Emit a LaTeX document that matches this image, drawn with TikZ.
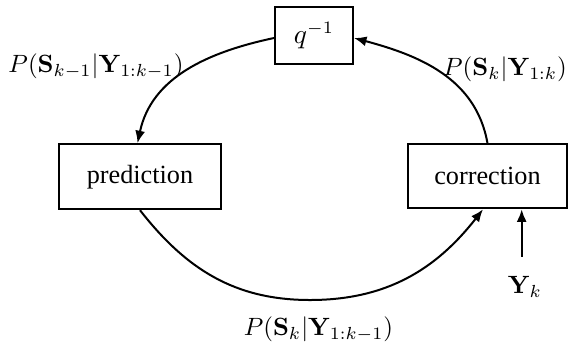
\documentclass[tikz,border=0pt]{standalone}
\usepackage[no-math]{fontspec}
\setmainfont{Liberation Serif}
\usepackage{amsmath}
\usetikzlibrary{arrows.meta,positioning}

\begin{document}
\begin{tikzpicture}[x=0.4pt,y=-0.4pt,
  blockbox/.style={draw,line width=0.8pt,inner sep=0pt,font=\fontsize{10.5}{12}\selectfont},
  flow/.style={-{Latex[length=5pt,width=4pt]},line width=0.8pt},
  prob/.style={inner sep=0pt,font=\normalsize}]
  \useasboundingbox (0,0) rectangle (568,349);
  % Blocks
  \node[blockbox,minimum width=31.2pt,minimum height=22.8pt] (delay) at (314,35.5) {$q^{-1}$};
  \node[blockbox,minimum width=64.8pt,minimum height=26pt] (pred) at (140,176.7) {prediction};
  \node[blockbox,minimum width=63.6pt,minimum height=25.6pt] (corr) at (487.5,176.3) {correction};
  % Loop
  \coordinate (bottom) at (310,300);
  \draw[flow] (corr.north) to[out=100,in=-15] ([yshift=-1pt]delay.east);
  \draw[flow] ([yshift=-1pt]delay.west) to[out=192,in=78] ([xshift=-1pt]pred.north);
  \draw[flow] (pred.south) to[out=-52,in=180] (bottom)
    to[out=0,in=-128] ([xshift=-1.8pt]corr.south);
  % Measurement
  \coordinate (yin) at (521.7,256.7);
  \node[prob] (yk) at (525,287) {$\mathbf{Y}_k$};
  \draw[flow] (yin) -- (yin |- corr.south);
  % Labels
  \node[prob] (pprev) at (96,66) {$P(\mathbf{S}_{k-1}|\mathbf{Y}_{1:k-1})$};
  \node[prob] (pcorr) at (505,69) {$P(\mathbf{S}_k|\mathbf{Y}_{1:k})$};
  \node[prob] (ppred) at (318.5,329) {$P(\mathbf{S}_k|\mathbf{Y}_{1:k-1})$};
\end{tikzpicture}
\end{document}
